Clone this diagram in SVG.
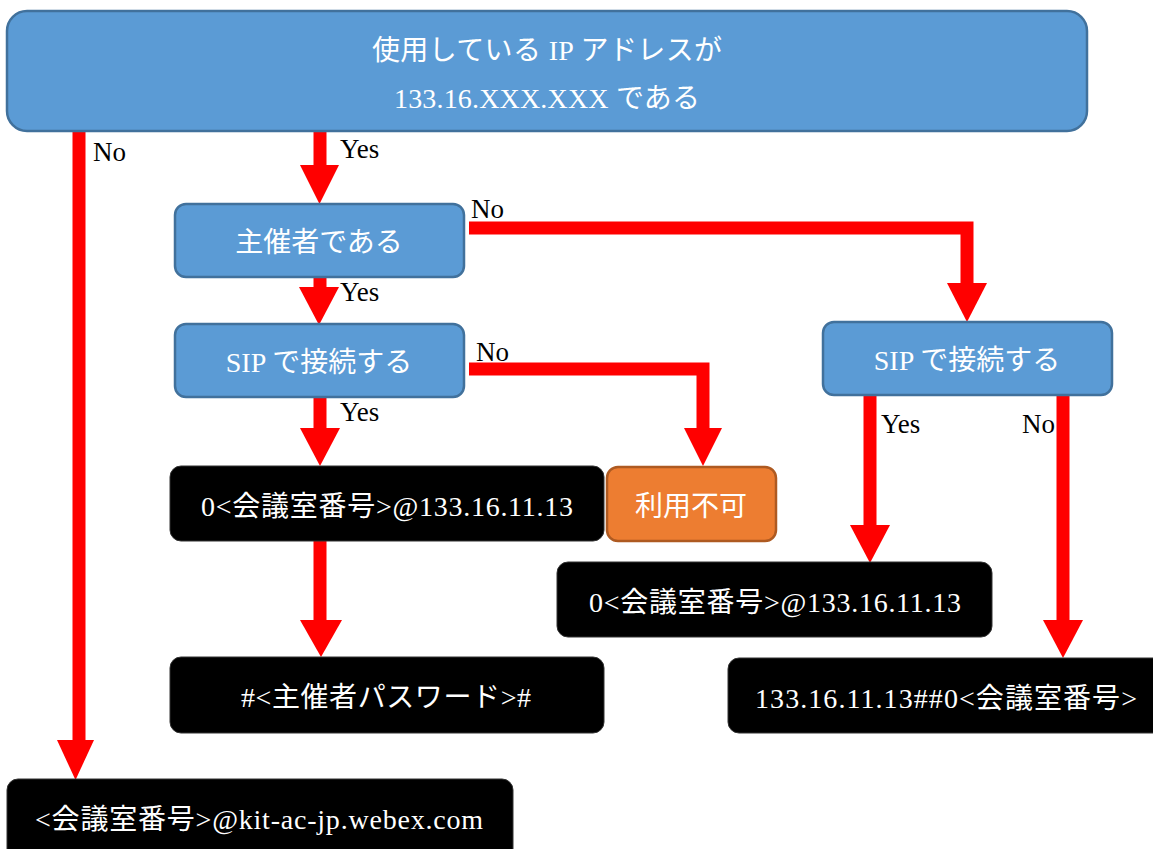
<svg xmlns="http://www.w3.org/2000/svg" width="1153" height="849" viewBox="0 0 1153 849">
<defs>
<style>
.blue{fill:#5B9BD5;stroke:#41719C;stroke-width:2.5}
.orange{fill:#ED7D31;stroke:#AE5A21;stroke-width:2.5}
.black{fill:#000;stroke:#333;stroke-width:1}
.t{font-family:"Liberation Serif","Noto Sans CJK JP",serif;fill:#fff;font-size:28px;text-anchor:middle}
.lbl{font-family:"Liberation Serif",serif;fill:#000;font-size:27px}
.line{fill:none;stroke:#FF0000;stroke-width:13;stroke-linejoin:miter}
.head{fill:#FF0000}
</style>
</defs>
<rect width="1153" height="849" fill="#fff"/>
<g id="connectors">
<path class="line" d="M79 131V742"/><polygon class="head" points="57,740 94,740 75.5,780"/>
<path class="line" d="M320 131V167"/><polygon class="head" points="300,165 339,165 319.5,204"/>
<path class="line" d="M320 277V289"/><polygon class="head" points="299,287 339,287 319,325"/>
<path class="line" d="M320 397V430"/><polygon class="head" points="300,428 340,428 320,466"/>
<path class="line" d="M320 541V622"/><polygon class="head" points="300,620 342,620 321,657"/>
<path class="line" d="M469 228H967V285"/><polygon class="head" points="947,283 987,283 967,322"/>
<path class="line" d="M469 369H703V430"/><polygon class="head" points="684,428 722,428 703,466"/>
<path class="line" d="M870 395V527"/><polygon class="head" points="850,525 890,525 870,563"/>
<path class="line" d="M1063 395V622"/><polygon class="head" points="1043,620 1083,620 1063,658"/>
<text class="lbl" x="93" y="161">No</text>
<text class="lbl" x="340" y="158">Yes</text>
<text class="lbl" x="471" y="218">No</text>
<text class="lbl" x="340" y="301">Yes</text>
<text class="lbl" x="476" y="361">No</text>
<text class="lbl" x="340" y="421">Yes</text>
<text class="lbl" x="881" y="433">Yes</text>
<text class="lbl" x="1022" y="433">No</text>
</g>
<g id="n-ip">
<rect class="blue" x="7" y="11" width="1080" height="120" rx="20"/>
<text class="t" x="547" y="60" textLength="350">使用している IP アドレスが</text>
<text class="t" x="547" y="108" textLength="306">133.16.XXX.XXX である</text>
</g>
<g id="n-host">
<rect class="blue" x="175" y="204" width="289" height="73" rx="11"/>
<text class="t" x="319" y="252">主催者である</text>
</g>
<g id="n-sip1">
<rect class="blue" x="175" y="324" width="289" height="73" rx="11"/>
<text class="t" x="319" y="372">SIP で接続する</text>
</g>
<g id="n-sip2">
<rect class="blue" x="823" y="322" width="289" height="73" rx="11"/>
<text class="t" x="967" y="370">SIP で接続する</text>
</g>
<g id="n-addr1">
<rect class="black" x="170" y="466" width="434" height="75" rx="11"/>
<text class="t" x="387" y="516" textLength="372">0&lt;会議室番号&gt;@133.16.11.13</text>
</g>
<g id="n-na">
<rect class="orange" x="607" y="467" width="169" height="74" rx="11"/>
<text class="t" x="691" y="516">利用不可</text>
</g>
<g id="n-pass">
<rect class="black" x="170" y="657" width="434" height="76" rx="11"/>
<text class="t" x="386" y="707" textLength="290">#&lt;主催者パスワード&gt;#</text>
</g>
<g id="n-addr2">
<rect class="black" x="557" y="562" width="435" height="75" rx="11"/>
<text class="t" x="775" y="612" textLength="372">0&lt;会議室番号&gt;@133.16.11.13</text>
</g>
<g id="n-addr3">
<rect class="black" x="728" y="658" width="440" height="75" rx="11"/>
<text class="t" x="946" y="708" textLength="382">133.16.11.13##0&lt;会議室番号&gt;</text>
</g>
<g id="n-webex">
<rect class="black" x="7" y="779" width="506" height="90" rx="11"/>
<text class="t" x="259" y="829" textLength="448">&lt;会議室番号&gt;@kit-ac-jp.webex.com</text>
</g>
</svg>
